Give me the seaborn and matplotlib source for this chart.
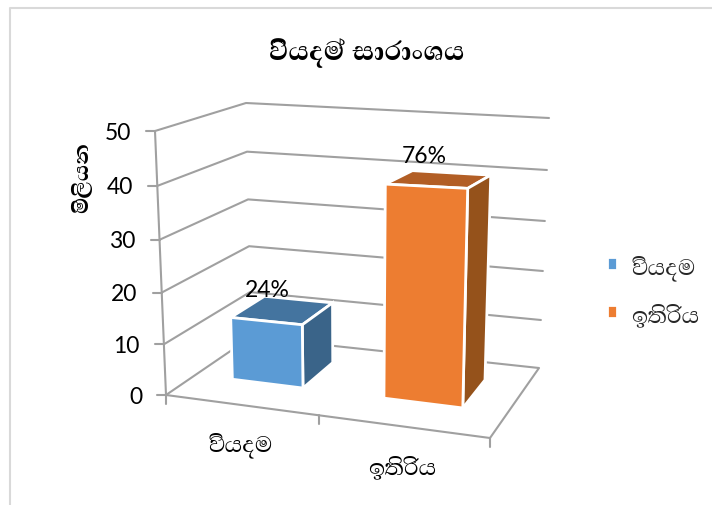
import numpy as np
import pandas as pd
import matplotlib
matplotlib.use('Agg')
import matplotlib.pyplot as plt
from matplotlib import font_manager
from matplotlib.ft2font import FT2Font
from matplotlib.lines import Line2D
from matplotlib.transforms import Affine2D, Transform
import seaborn as sns

# ---------------- data ----------------
title = 'වියදම් සාරාංශය'
y_label = 'මිලියන'
categories = ['වියදම', 'ඉතිරිය']
values = [12.5, 40]
value_labels = ['24%', '76%']
y_ticks = [0, 10, 20, 30, 40, 50]

# ---------------- style / geometry (pixels, y down) ----------------
W, H = 712, 505
FACE = ['#5B9BD5', '#ED7D31']
TOP = ['#44749F', '#B25E25']
SIDE = ['#3A6489', '#95521B']
GRID = '#A0A0A0'
BAR_WIDTH = 0.48
DEPTH_FRONT, DEPTH_BACK = 0.35, 0.76
LABEL_SHIFT = [(-15, -20), (-14, -23)]

# corners of the 3D box: (front/back, left/right) at value 0 and value 50
FL0, FL50 = np.array([166, 395.]), np.array([155, 131.])
BL0, BL50 = np.array([251, 337.]), np.array([246, 103.])
FR0, FR50 = np.array([490, 438.]), np.array([498, 140.])
BR0, BR50 = np.array([539, 368.]), np.array([549, 118.])


def find_sinhala_font():
    names = []
    for path in sorted({f.fname for f in font_manager.fontManager.ttflist}):
        try:
            if 0x0DC0 in FT2Font(path).get_charmap():
                names.append(font_manager.FontProperties(fname=path).get_name())
        except Exception:
            continue
    names = sorted(set(names), key=lambda n: 'Mono' in n)
    return names[0] if names else None


def project(x, depth, value):
    """Category position, depth 0-1 and value -> pixel position."""
    t = (np.asarray(x, dtype=float) + 0.5) / 2
    u = t - 0.11 * t * (1 - t)  # foreshortening along the floor
    v = np.asarray(depth, dtype=float)
    w = np.asarray(value, dtype=float) / 50
    w = w - 0.05 * w * (1 - w)  # and along the value axis
    out = []
    for c0, c1, c2, c3 in zip(zip(FL0, FL50), zip(BL0, BL50), zip(FR0, FR50), zip(BR0, BR50)):
        fl = c0[0] + (c0[1] - c0[0]) * w
        bl = c1[0] + (c1[1] - c1[0]) * w
        fr = c2[0] + (c2[1] - c2[0]) * w
        br = c3[0] + (c3[1] - c3[0]) * w
        left = fl + (bl - fl) * v
        right = fr + (br - fr) * v
        out.append(left + (right - left) * u)
    return np.array(out).T


class FaceTransform(Transform):
    """Maps bar data coordinates onto the plane at a fixed depth."""
    input_dims = output_dims = 2
    is_separable = False

    def __init__(self, plane):
        super().__init__()
        self.plane = plane

    def transform_non_affine(self, values):
        values = np.asarray(values, dtype=float)
        return project(values[:, 0], self.plane, values[:, 1])


sns.set_theme(style='white')
sinhala = find_sinhala_font()
plt.rcParams['font.family'] = ['Lato'] + ([sinhala] if sinhala else []) + ['DejaVu Sans']

fig = plt.figure(figsize=(W / 100, H / 100), dpi=100)
ax = fig.add_axes([0, 0, 1, 1])
px = Affine2D().scale(1, -1).translate(0, H)

df = pd.DataFrame({'category': categories, 'value': values})
sns.barplot(data=df, x='category', y='value', hue='category', palette=FACE, width=BAR_WIDTH,
            dodge=False, legend=True, linewidth=2, edgecolor='white', saturation=1, ax=ax)
ax.set_xlim(-0.5, 1.5)
ax.set_ylim(0, 50)
ax.set_xlabel('')
ax.set_ylabel('')
for spine in ax.spines.values():
    spine.set_visible(False)
ax.set_xticks([])
ax.set_yticks([])


def draw_px(points, **kw):
    pts = np.asarray(points)
    kw.setdefault('color', GRID)
    kw.setdefault('lw', 1.5)
    ax.add_line(Line2D(pts[:, 0], pts[:, 1], transform=px, clip_on=False,
                       solid_capstyle='round', **kw))


# walls, gridlines and axis lines
XL, XR = -0.5, 1.5
for tick in y_ticks[1:]:
    draw_px([project(XL, 0, tick), project(XL, 1, tick), project(XR, 1, tick)], zorder=1)
draw_px([project(XL, 0, 0), project(XL, 1, 0), project(XR, 1, 0), project(XR, 0, 0)], zorder=1)
draw_px([project(XL, 0, 0), project(XL, 0, y_ticks[-1])], zorder=1)
draw_px([project(XL, 0, 0), project(XR, 0, 0)], zorder=1)

for tick in y_ticks:
    p = project(XL, 0, tick)
    draw_px([p + (-9, 0), p], zorder=1)
    ax.text(p[0] - 24, p[1] + 2, str(tick), transform=px, ha='right', va='center',
            fontsize=16.5, color='black')

for x in [XL, 0.5, XR]:
    p = project(x, 0, 0)
    draw_px([p, p + (0, 9)], zorder=1)

# bars: front faces come from seaborn, top and side follow their extents
bars = [patch for container in ax.containers for patch in container if patch.get_height() > 0]
for i, patch in enumerate(bars):
    x0, x1 = patch.get_x(), patch.get_x() + patch.get_width()
    height = patch.get_height()
    patch.set_transform(FaceTransform(DEPTH_FRONT) + px)
    patch.set_clip_on(False)
    patch.set_zorder(3)
    top_face = [project(x0, DEPTH_FRONT, height), project(x1, DEPTH_FRONT, height),
                project(x1, DEPTH_BACK, height), project(x0, DEPTH_BACK, height)]
    side_face = [project(x1, DEPTH_FRONT, 0), project(x1, DEPTH_FRONT, height),
                 project(x1, DEPTH_BACK, height), project(x1, DEPTH_BACK, 0)]
    ax.fill(*np.array(top_face).T, color=TOP[i], ec='white', lw=2, transform=px, clip_on=False, zorder=2)
    ax.fill(*np.array(side_face).T, color=SIDE[i], ec='white', lw=2, transform=px, clip_on=False, zorder=2)
    p = project((x0 + x1) / 2, (DEPTH_FRONT + DEPTH_BACK) / 2, height)
    ax.text(p[0] + LABEL_SHIFT[i][0], p[1] + LABEL_SHIFT[i][1], value_labels[i], transform=px,
            ha='center', va='center', fontsize=16.5, color='black', zorder=5)

# category labels
for i, name in enumerate(categories):
    p = project(i, 0, 0)
    ax.text(p[0], p[1] + 40, name, transform=px, ha='center', va='center', fontsize=21, color='black')

ax.text(367, 52, title, transform=px, ha='center', va='center', fontsize=24.5, fontweight='bold', color='black')
ax.text(80, 177, y_label, transform=px, ha='center', va='center', rotation=90, fontsize=19.5,
        fontweight='bold', color='black')

sns.move_legend(ax, loc='center left', bbox_to_anchor=(607 / W, 1 - 290 / H),
                bbox_transform=fig.transFigure, frameon=False, title=None, fontsize=21,
                borderpad=0, borderaxespad=0, handlelength=0.33, handleheight=0.33,
                handletextpad=0.5, labelspacing=0.7)

# chart frame: only the top and left edges fall inside the picture
fig.add_artist(Line2D([10 / W, 10 / W, 1], [0, 1 - 8 / H, 1 - 8 / H], color='#D9D9D9', lw=1.5))

fig.savefig('out.png', dpi=100)
plt.close(fig)
